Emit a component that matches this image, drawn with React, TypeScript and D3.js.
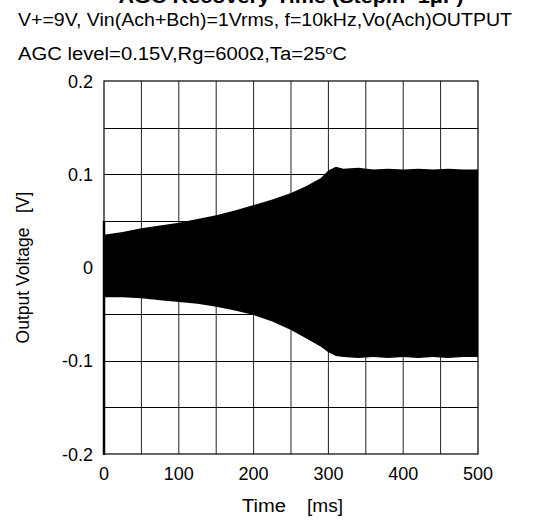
import React from "react";
import * as d3 from "d3";

const titleText = "AGC Recovery Time (Stepin=1μF)";
const subtitle1 = "V+=9V, Vin(Ach+Bch)=1Vrms, f=10kHz,Vo(Ach)OUTPUT";
const xTicks = [0, 100, 200, 300, 400, 500];
const yTicks = [-0.2, -0.1, 0, 0.1, 0.2];
const xGrid = [50, 100, 150, 200, 250, 300, 350, 400, 450];
const yGrid = [-0.15, -0.1, -0.05, 0, 0.05, 0.1, 0.15];

// envelope of the 10 kHz output waveform
const timeMs = [0, 25, 50, 75, 100, 125, 150, 175, 200, 225, 250, 270, 290, 300, 310, 320, 340, 360, 380, 400, 420, 440, 460, 480, 500];
const upperV = [0.035, 0.038, 0.042, 0.045, 0.048, 0.052, 0.056, 0.061, 0.067, 0.073, 0.08, 0.087, 0.096, 0.104, 0.108, 0.106, 0.107, 0.105, 0.106, 0.105, 0.106, 0.105, 0.106, 0.105, 0.105];
const lowerV = [-0.032, -0.032, -0.033, -0.035, -0.037, -0.039, -0.042, -0.046, -0.051, -0.058, -0.067, -0.076, -0.085, -0.091, -0.095, -0.096, -0.097, -0.096, -0.097, -0.096, -0.097, -0.096, -0.097, -0.096, -0.096];

const FONT = "'Liberation Sans', Arial, sans-serif";

function fmt(v: number): string {
  if (v === 0) return "0";
  return (v < 0 ? "-" : "") + Math.abs(v).toFixed(1);
}

export default function App() {
  const left = 104, right = 478, top = 81, bottom = 454;
  const x = d3.scaleLinear().domain([0, 500]).range([left, right]);
  const y = d3.scaleLinear().domain([-0.2, 0.2]).range([bottom, top]);

  const data = timeMs.map((t, i) => ({ t, hi: upperV[i], lo: lowerV[i] }));
  const area = d3
    .area<{ t: number; hi: number; lo: number }>()
    .x((d) => x(d.t))
    .y0((d) => y(d.lo))
    .y1((d) => y(d.hi))
    .curve(d3.curveLinear);

  return (
    <svg
      width={547}
      height={520}
      style={{ position: "absolute", left: 0, top: 0, background: "#fff" }}
      fontFamily={FONT}
    >
      <rect x={0} y={0} width={547} height={520} fill="#fff" />
      <text x={291} y={3} fontSize={18} fontWeight="bold" textAnchor="middle" textLength={345} lengthAdjust="spacingAndGlyphs">
        {titleText}
      </text>
      <text x={18} y={26} fontSize={18} textLength={494} lengthAdjust="spacingAndGlyphs">
        {subtitle1}
      </text>
      <text x={18} y={59.5} fontSize={18} textLength={329} lengthAdjust="spacingAndGlyphs">
        AGC level=0.15V,Rg=600Ω,Ta=25
        <tspan dy={-6} fontSize={11}>o</tspan>
        <tspan dy={6}>C</tspan>
      </text>

      {/* grid */}
      {xGrid.map((v) => (
        <line key={"gx" + v} x1={x(v)} x2={x(v)} y1={top} y2={bottom} stroke="#222" strokeWidth={1} />
      ))}
      {yGrid.map((v) => (
        <line key={"gy" + v} x1={left} x2={right} y1={Math.round(y(v)) + 0.5} y2={Math.round(y(v)) + 0.5} stroke="#000" strokeWidth={1} />
      ))}

      {/* waveform envelope */}
      <path d={area(data) || ""} fill="#000" />

      {/* frame */}
      <rect x={left} y={top} width={right - left} height={bottom - top} fill="none" stroke="#000" strokeWidth={1.2} />
      <line x1={left} x2={left} y1={y(0.05)} y2={bottom + 1} stroke="#000" strokeWidth={2.5} />

      {/* y tick labels */}
      {yTicks.map((v) => (
        <text key={"yt" + v} x={93} y={y(v) + 6.5} fontSize={18} textAnchor="end">
          {fmt(v)}
        </text>
      ))}
      {/* x tick labels */}
      {xTicks.map((v) => (
        <text key={"xt" + v} x={x(v)} y={479.5} fontSize={18} textAnchor="middle">
          {v}
        </text>
      ))}

      <text x={242} y={512} fontSize={18} textLength={44} lengthAdjust="spacingAndGlyphs">Time</text>
      <text x={307} y={512} fontSize={18} textLength={36} lengthAdjust="spacingAndGlyphs">[ms]</text>
      <text
        transform={`translate(29, ${(top + bottom) / 2}) rotate(-90)`}
        fontSize={17.5}
        textAnchor="middle"
        style={{ whiteSpace: "pre" }}
      >
        {"Output Voltage   [V]"}
      </text>
    </svg>
  );
}
